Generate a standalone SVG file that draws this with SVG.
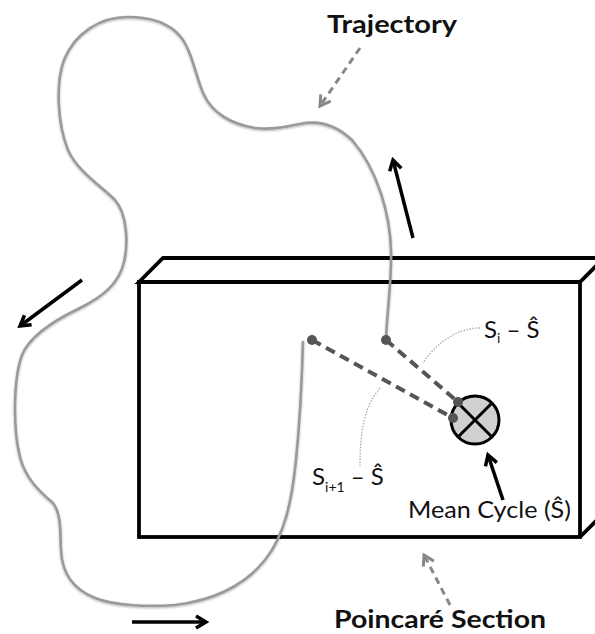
<svg xmlns="http://www.w3.org/2000/svg" width="595" height="634" viewBox="0 0 595 634">
<style>
.box{fill:none;stroke:#000;stroke-width:3.8;stroke-linejoin:miter}
.traj{fill:none;stroke:#9a9a9a;stroke-width:2.6;filter:url(#sh)}
.dash{fill:none;stroke:#555;stroke-width:4;stroke-dasharray:10 6}
.dot{fill:#555}
.lead{fill:none;stroke:#aaa;stroke-width:1.3;stroke-dasharray:1.5 1.5}
.arr{fill:none;stroke:#000;stroke-width:3.5;marker-end:url(#ahb)}
.garr{fill:none;stroke:#888;stroke-width:3;stroke-dasharray:7 5;marker-end:url(#ahg)}
.bold{font-family:Lato,"Open Sans","Liberation Sans",sans-serif;font-weight:bold;fill:#111}
.lab{font-family:Lato,"Open Sans","Liberation Sans",sans-serif;fill:#111}
</style>
<defs>
<filter id="sh" x="-10%" y="-10%" width="120%" height="120%">
<feDropShadow dx="0" dy="1" stdDeviation="1.2" flood-color="#000" flood-opacity="0.3"/>
</filter>
<marker id="ahb" viewBox="0 0 16 16" refX="13" refY="8" markerWidth="16" markerHeight="16" markerUnits="userSpaceOnUse" orient="auto">
<path d="M3,2 L13,8 L3,14" fill="none" stroke="#000" stroke-width="3.5"/>
</marker>
<marker id="ahg" viewBox="0 0 16 16" refX="13" refY="8" markerWidth="16" markerHeight="16" markerUnits="userSpaceOnUse" orient="auto">
<path d="M3,2 L13,8 L3,14" fill="none" stroke="#888" stroke-width="3"/>
</marker>
</defs>

<g id="poincare-box">
<rect x="139" y="282" width="441" height="255" fill="#fff" stroke="none"/>
<path class="box" d="M139,282 L163,258 L604,258 L580,282 Z"/>
<path class="box" d="M580,537 L604,513 L604,258"/>
<rect class="box" x="139" y="282" width="441" height="255"/>
</g>

<g id="trajectory">
<path class="traj" d="M386,340 C387,310 392,280 391,250 C390,215 378,170 352,140 C335,124 318,120 300,124 C285,127 270,130 255,128 C230,124 212,112 204,95 C196,78 192,50 180,36 C168,22 150,17 128,17 C100,17 75,33 64,60 C55,85 58,125 68,150 C78,172 100,185 115,200 C128,215 128,245 124,262 C119,285 100,298 80,308 C55,320 30,335 22,355 C13,380 13,430 20,457 C25,478 40,492 53,503 C62,515 60,535 61,550 C62,575 75,590 95,598 C115,606 150,607 175,605 C215,600 245,585 265,560 C285,535 292,500 296,460 C300,420 302,380 303,341"/>
</g>

<g id="connectors">
<path class="dash" d="M386,340 L458,402"/>
<path class="dash" d="M312,340 L453,418"/>
<circle class="dot" cx="386" cy="340" r="5"/>
<circle class="dot" cx="312" cy="340" r="5"/>
<path class="lead" d="M480,328 C455,328 435,345 423,363"/>
<path class="lead" d="M380,388 C365,405 360,430 360,466"/>
<path class="arr" d="M413,238 L393,160"/>
<path class="arr" d="M82,280 L20,326"/>
<path class="arr" d="M132,622 L206,622"/>
<path class="arr" d="M503,500 L488,455"/>
<path class="garr" d="M360,48 L320,106"/>
<path class="garr" d="M450,605 L424,555"/>
</g>

<g id="mean-cycle">
<circle cx="475" cy="420" r="24" fill="#d0d0d0" stroke="#000" stroke-width="3"/>
<path d="M458,403 L492,437 M492,403 L458,437" stroke="#000" stroke-width="3"/>
<circle class="dot" cx="458" cy="402" r="5"/>
<circle class="dot" cx="453" cy="418" r="5"/>
</g>

<g id="labels">
<text class="bold" x="327" y="33" font-size="24" textLength="130" lengthAdjust="spacingAndGlyphs">Trajectory</text>
<text class="bold" x="334" y="628" font-size="24" textLength="212" lengthAdjust="spacingAndGlyphs">Poincaré Section</text>
<text class="lab" x="408" y="518" font-size="23" textLength="163" lengthAdjust="spacingAndGlyphs">Mean Cycle (Ŝ)</text>
<text class="lab" x="484" y="338" font-size="24">S<tspan font-size="14" dy="5">i</tspan><tspan dy="-5"> – Ŝ</tspan></text>
<text class="lab" x="312" y="485" font-size="24">S<tspan font-size="14" dy="7">i+1</tspan><tspan dy="-7"> – Ŝ</tspan></text>
</g>
</svg>
